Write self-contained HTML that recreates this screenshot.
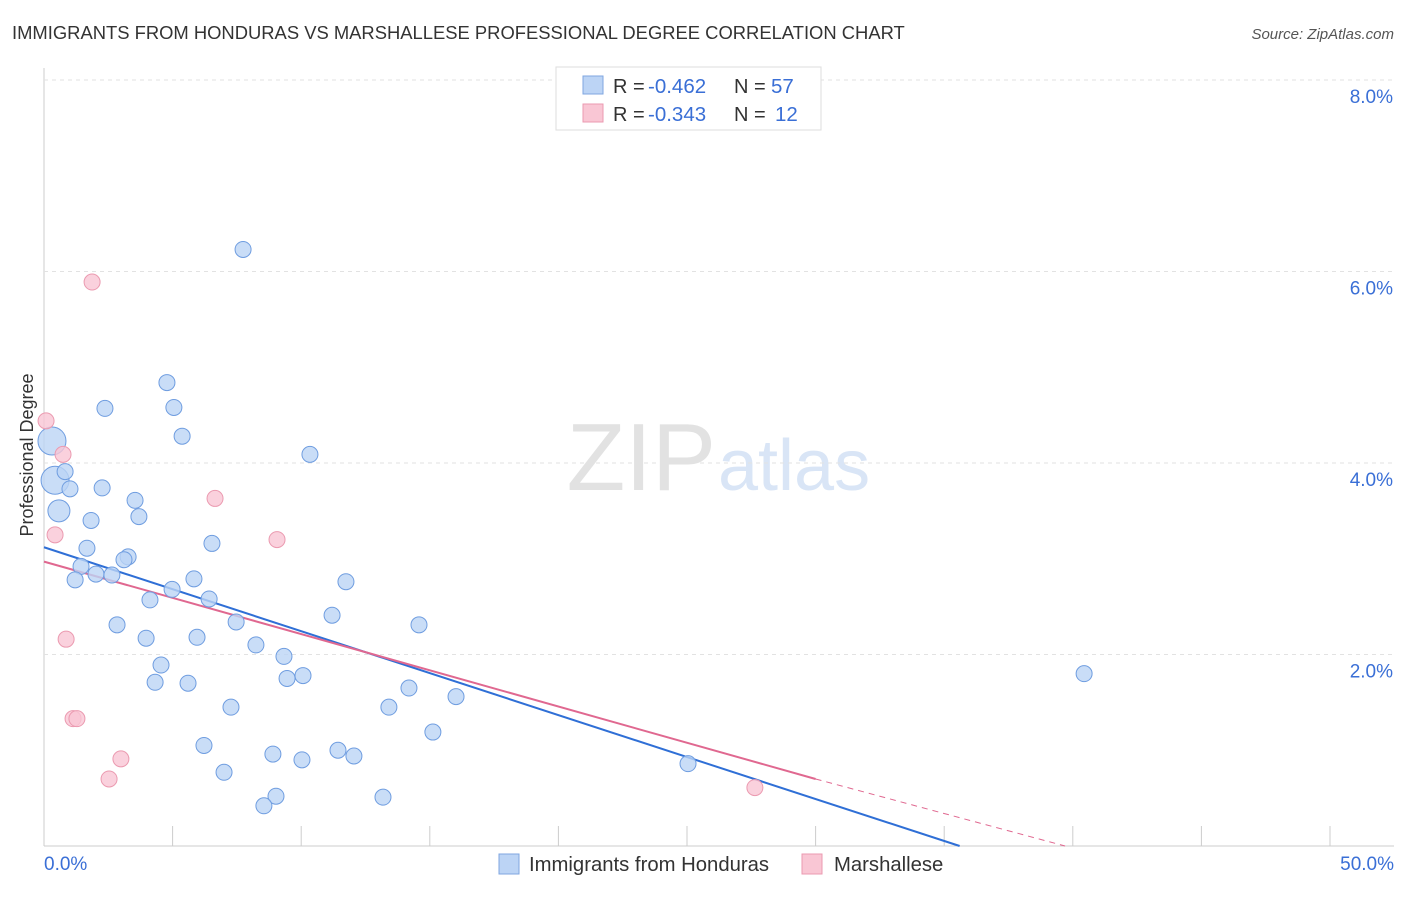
<!DOCTYPE html>
<html><head><meta charset="utf-8"><style>
body{margin:0;background:#fff;font-family:"Liberation Sans",sans-serif}
svg text{font-family:"Liberation Sans",sans-serif}
</style></head><body>
<svg id="c" width="1406" height="892">
<text x="12" y="39" font-size="18.4" fill="#333">IMMIGRANTS FROM HONDURAS VS MARSHALLESE PROFESSIONAL DEGREE CORRELATION CHART</text>
<text x="1394" y="39" font-size="15" fill="#555" font-style="italic" text-anchor="end">Source: ZipAtlas.com</text>
<text x="716" y="490" font-size="96" fill="#e2e2e2" text-anchor="end" font-family="Liberation Serif">ZIP</text>
<text x="718" y="490" font-size="72" fill="#d9e5f6">atlas</text>
<text transform="translate(33,455) rotate(-90)" font-size="18" fill="#333" text-anchor="middle">Professional Degree</text>
<g id="grid"></g><g id="lines"></g><g id="pts"></g>
<g>
<rect x="556" y="67" width="265" height="63" fill="#fff" stroke="#ddd"/>
<rect x="583" y="76" width="20" height="18" fill="#bcd4f5" stroke="#7fa6e0"/>
<rect x="583" y="104" width="20" height="18" fill="#f9c6d4" stroke="#eb9ab0"/>
<text x="613" y="93" font-size="20" fill="#333">R =</text>
<text x="648" y="93" font-size="20.5" fill="#3a6fd6">-0.462</text>
<text x="734" y="93" font-size="20" fill="#333">N =</text>
<text x="771" y="93" font-size="20.5" fill="#3a6fd6">57</text>
<text x="613" y="121" font-size="20" fill="#333">R =</text>
<text x="648" y="121" font-size="20.5" fill="#3a6fd6">-0.343</text>
<text x="734" y="121" font-size="20" fill="#333">N =</text>
<text x="775" y="121" font-size="20.5" fill="#3a6fd6">12</text>
</g>
<g>
<rect x="499" y="854" width="20" height="20" fill="#bcd4f5" stroke="#7fa6e0"/>
<text x="529" y="871" font-size="20.3" fill="#333">Immigrants from Honduras</text>
<rect x="802" y="854" width="20" height="20" fill="#f9c6d4" stroke="#eb9ab0"/>
<text x="834" y="871" font-size="20.3" fill="#333">Marshallese</text>
</g>
</svg>
<script>
const xTicks=[0,5,10,15,20,25,30,35,40,45,50];
const yTicks=[2,4,6,8];
const blueX=[7.74,4.78,2.37,5.05,5.37,10.34,0.31,0.43,0.82,1.01,2.26,0.58,1.83,3.54,3.69,6.53,1.67,3.27,3.11,1.44,2.02,2.64,1.21,5.83,11.74,4.98,4.12,6.42,11.2,7.47,14.58,2.84,3.97,5.95,8.24,4.55,9.33,4.32,5.6,9.45,10.07,14.19,16.02,7.27,13.41,15.12,6.22,11.43,8.9,12.05,10.03,7.0,25.04,9.02,8.55,13.18,40.44];
const blueY=[6.23,4.84,4.57,4.58,4.28,4.09,4.23,3.82,3.91,3.73,3.74,3.5,3.4,3.61,3.44,3.16,3.11,3.02,2.99,2.92,2.84,2.83,2.78,2.79,2.76,2.68,2.57,2.58,2.41,2.34,2.31,2.31,2.17,2.18,2.1,1.89,1.98,1.71,1.7,1.75,1.78,1.65,1.56,1.45,1.45,1.19,1.05,1.0,0.96,0.94,0.9,0.77,0.86,0.52,0.42,0.51,1.8];
const pinkX=[1.87,0.08,0.74,6.65,9.06,0.43,0.86,1.13,1.28,2.99,2.53,27.64];
const pinkY=[5.89,4.44,4.09,3.63,3.2,3.25,2.16,1.33,1.33,0.91,0.7,0.61];
const blueTrend=[[0,3.12],[35.6,0]];
const pinkTrend=[[0,2.97],[30,0.70]];
const pinkDash=[[30,0.70],[39.7,0]];
const X=v=>44+v*25.72, Y=v=>846-v*95.75;
const NS="http://www.w3.org/2000/svg";
function mk(p,t,a){const e=document.createElementNS(NS,t);for(const k in a)e.setAttribute(k,a[k]);document.getElementById(p).appendChild(e);return e;}
let e=mk('grid','line',{x1:44,y1:68,x2:44,y2:846,stroke:'#ccc'});

e=mk('grid','line',{x1:44,y1:846,x2:1394,y2:846,stroke:'#ccc'});

yTicks.forEach(t=>{let g=mk('grid','line',{x1:44,x2:1394,y1:Y(t),y2:Y(t),stroke:'#e2e2e2','stroke-dasharray':'4,4'});

let l=mk('grid','text',{x:1393,y:Y(t)+23,'font-size':19,fill:'#3a6fd6','text-anchor':'end'});l.textContent=t.toFixed(1)+'%';
});
xTicks.forEach(t=>{let g=mk('grid','line',{x1:X(t),x2:X(t),y1:826,y2:846,stroke:'#ccc'});
});
[[0,'0.0%','start',44],[50,'50.0%','end',1394]].forEach(a=>{let l=mk('grid','text',{x:a[3],y:870,'font-size':19,fill:'#3a6fd6','text-anchor':a[2]});l.textContent=a[1];
});
function ln(d,c,extra,name){let l=mk('lines','line',Object.assign({x1:X(d[0][0]),y1:Y(d[0][1]),x2:X(d[1][0]),y2:Y(d[1][1]),stroke:c,'stroke-width':2},extra));
}
ln(blueTrend,'#2f6fd6',{},'honduras-trend-line');
ln(pinkTrend,'#e06890',{},'marshallese-trend-line');
ln(pinkDash,'#e06890',{'stroke-width':1,'stroke-dasharray':'6,5'},'marshallese-trend-extension');
blueX.forEach((x,i)=>{let r=(i==6||i==7)?14:(i==11?11:8);
let c=mk('pts','circle',{cx:X(x),cy:Y(blueY[i]),r:r,fill:'#bcd4f5','fill-opacity':0.8,stroke:'#6f9de0','stroke-width':1});
});
pinkX.forEach((x,i)=>{let c=mk('pts','circle',{cx:X(x),cy:Y(pinkY[i]),r:8,fill:'#f9c6d4','fill-opacity':0.8,stroke:'#eb9ab0','stroke-width':1});
});
</script>
</body></html>
